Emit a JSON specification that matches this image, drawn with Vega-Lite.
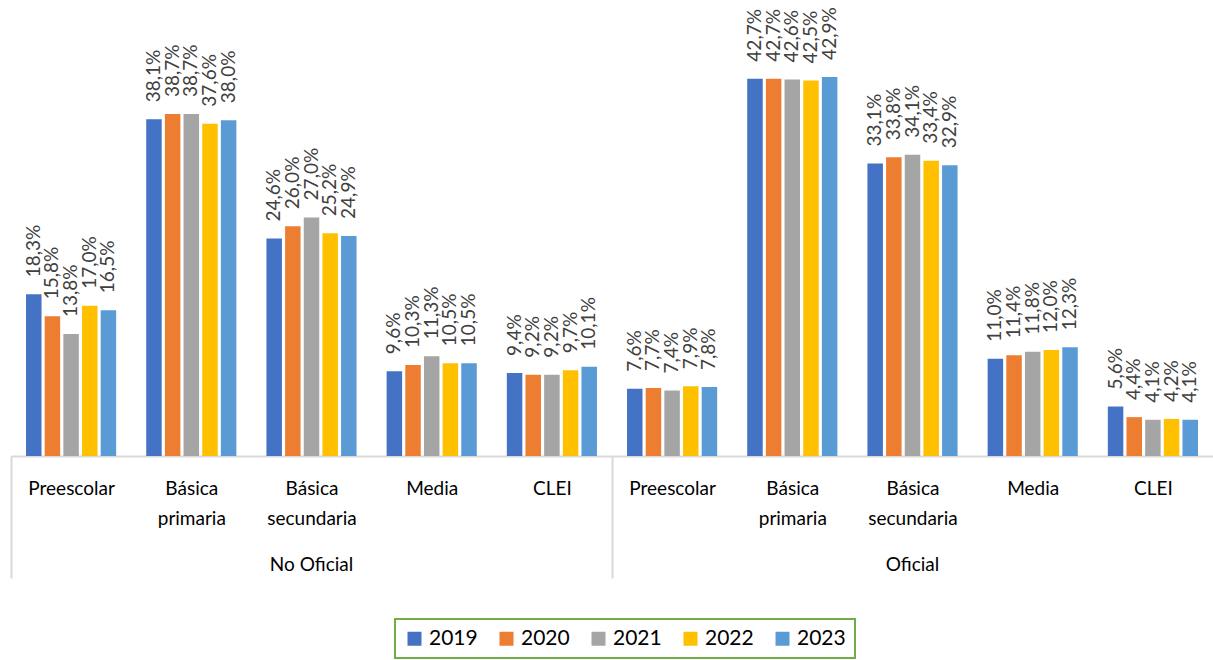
{
  "$schema": "https://vega.github.io/schema/vega-lite/v6.json",
  "padding": {"left": 10, "top": 0, "right": 0, "bottom": 0},
  "config": {
    "locale": {"number": {"decimal": ",", "thousands": ".", "grouping": [3], "currency": ["", " €"]}},
    "view": {"stroke": null},
    "font": "Lato",
    "legend": {"strokeWidth": 2}
  },
  "data": {"values": [
    {"sector": "No Oficial", "level": "Preescolar", "year": "2019", "value": 0.183},
    {"sector": "No Oficial", "level": "Preescolar", "year": "2020", "value": 0.158},
    {"sector": "No Oficial", "level": "Preescolar", "year": "2021", "value": 0.138},
    {"sector": "No Oficial", "level": "Preescolar", "year": "2022", "value": 0.170},
    {"sector": "No Oficial", "level": "Preescolar", "year": "2023", "value": 0.165},
    {"sector": "No Oficial", "level": "Básica primaria", "year": "2019", "value": 0.381},
    {"sector": "No Oficial", "level": "Básica primaria", "year": "2020", "value": 0.387},
    {"sector": "No Oficial", "level": "Básica primaria", "year": "2021", "value": 0.387},
    {"sector": "No Oficial", "level": "Básica primaria", "year": "2022", "value": 0.376},
    {"sector": "No Oficial", "level": "Básica primaria", "year": "2023", "value": 0.380},
    {"sector": "No Oficial", "level": "Básica secundaria", "year": "2019", "value": 0.246},
    {"sector": "No Oficial", "level": "Básica secundaria", "year": "2020", "value": 0.260},
    {"sector": "No Oficial", "level": "Básica secundaria", "year": "2021", "value": 0.270},
    {"sector": "No Oficial", "level": "Básica secundaria", "year": "2022", "value": 0.252},
    {"sector": "No Oficial", "level": "Básica secundaria", "year": "2023", "value": 0.249},
    {"sector": "No Oficial", "level": "Media", "year": "2019", "value": 0.096},
    {"sector": "No Oficial", "level": "Media", "year": "2020", "value": 0.103},
    {"sector": "No Oficial", "level": "Media", "year": "2021", "value": 0.113},
    {"sector": "No Oficial", "level": "Media", "year": "2022", "value": 0.105},
    {"sector": "No Oficial", "level": "Media", "year": "2023", "value": 0.105},
    {"sector": "No Oficial", "level": "CLEI", "year": "2019", "value": 0.094},
    {"sector": "No Oficial", "level": "CLEI", "year": "2020", "value": 0.092},
    {"sector": "No Oficial", "level": "CLEI", "year": "2021", "value": 0.092},
    {"sector": "No Oficial", "level": "CLEI", "year": "2022", "value": 0.097},
    {"sector": "No Oficial", "level": "CLEI", "year": "2023", "value": 0.101},
    {"sector": "Oficial", "level": "Preescolar", "year": "2019", "value": 0.076},
    {"sector": "Oficial", "level": "Preescolar", "year": "2020", "value": 0.077},
    {"sector": "Oficial", "level": "Preescolar", "year": "2021", "value": 0.074},
    {"sector": "Oficial", "level": "Preescolar", "year": "2022", "value": 0.079},
    {"sector": "Oficial", "level": "Preescolar", "year": "2023", "value": 0.078},
    {"sector": "Oficial", "level": "Básica primaria", "year": "2019", "value": 0.427},
    {"sector": "Oficial", "level": "Básica primaria", "year": "2020", "value": 0.427},
    {"sector": "Oficial", "level": "Básica primaria", "year": "2021", "value": 0.426},
    {"sector": "Oficial", "level": "Básica primaria", "year": "2022", "value": 0.425},
    {"sector": "Oficial", "level": "Básica primaria", "year": "2023", "value": 0.429},
    {"sector": "Oficial", "level": "Básica secundaria", "year": "2019", "value": 0.331},
    {"sector": "Oficial", "level": "Básica secundaria", "year": "2020", "value": 0.338},
    {"sector": "Oficial", "level": "Básica secundaria", "year": "2021", "value": 0.341},
    {"sector": "Oficial", "level": "Básica secundaria", "year": "2022", "value": 0.334},
    {"sector": "Oficial", "level": "Básica secundaria", "year": "2023", "value": 0.329},
    {"sector": "Oficial", "level": "Media", "year": "2019", "value": 0.110},
    {"sector": "Oficial", "level": "Media", "year": "2020", "value": 0.114},
    {"sector": "Oficial", "level": "Media", "year": "2021", "value": 0.118},
    {"sector": "Oficial", "level": "Media", "year": "2022", "value": 0.120},
    {"sector": "Oficial", "level": "Media", "year": "2023", "value": 0.123},
    {"sector": "Oficial", "level": "CLEI", "year": "2019", "value": 0.056},
    {"sector": "Oficial", "level": "CLEI", "year": "2020", "value": 0.044},
    {"sector": "Oficial", "level": "CLEI", "year": "2021", "value": 0.041},
    {"sector": "Oficial", "level": "CLEI", "year": "2022", "value": 0.042},
    {"sector": "Oficial", "level": "CLEI", "year": "2023", "value": 0.041}
  ]},
  "spacing": 0,
  "facet": {
    "column": {
      "field": "sector", "type": "nominal", "title": null,
      "sort": ["No Oficial", "Oficial"],
      "header": {"labelOrient": "bottom", "labelFontSize": 19, "labelColor": "black", "labelFont": "Lato", "labelPadding": -23}
    }
  },
  "spec": {
    "width": 601,
    "height": 456,
    "encoding": {
      "x": {
        "field": "level", "type": "nominal",
        "sort": ["Preescolar", "Básica primaria", "Básica secundaria", "Media", "CLEI"],
        "scale": {"paddingInner": 0.25, "paddingOuter": 0.125},
        "axis": {
          "title": null,
          "labelExpr": "split(datum.value, ' ')",
          "labelAngle": 0,
          "labelFontSize": 19,
          "labelFont": "Lato",
          "labelColor": "black",
          "labelLineHeight": 30,
          "labelPadding": {"condition": {"test": "datum.value === 'Preescolar'", "value": -99}, "value": 23},
          "domainColor": "#D9D9D9",
          "domainWidth": 2,
          "tickOffset": -60.1,
          "labelOffset": 60.1,
          "tickColor": "#D9D9D9",
          "tickWidth": 2,
          "tickSize": {"condition": {"test": "datum.value === 'Preescolar'", "value": 122}, "value": 0}
        }
      },
      "xOffset": {"field": "year", "type": "nominal", "scale": {"paddingInner": 0.17}},
      "y": {"field": "value", "type": "quantitative", "scale": {"domain": [0, 0.516]}, "axis": null}
    },
    "layer": [
      {
        "mark": {"type": "bar"},
        "encoding": {
          "color": {
            "field": "year", "type": "nominal",
            "scale": {"domain": ["2019", "2020", "2021", "2022", "2023"], "range": ["#4472C4", "#ED7D31", "#A5A5A5", "#FFC000", "#5B9BD5"]},
            "legend": {
              "title": null, "orient": "none", "legendX": 384, "legendY": 619, "direction": "horizontal",
              "symbolType": "square", "symbolSize": 196, "symbolStrokeWidth": 0,
              "labelFontSize": 21, "labelFont": "Lato", "labelColor": "black",
              "strokeColor": "#70AD47", "padding": 9, "columnPadding": 18
            }
          }
        }
      },
      {
        "mark": {"type": "text", "angle": 270, "align": "left", "baseline": "middle", "dx": 17, "fontSize": 19, "color": "#404040", "font": "Lato"},
        "encoding": {"text": {"field": "value", "type": "quantitative", "format": ".1%"}}
      }
    ]
  }
}
